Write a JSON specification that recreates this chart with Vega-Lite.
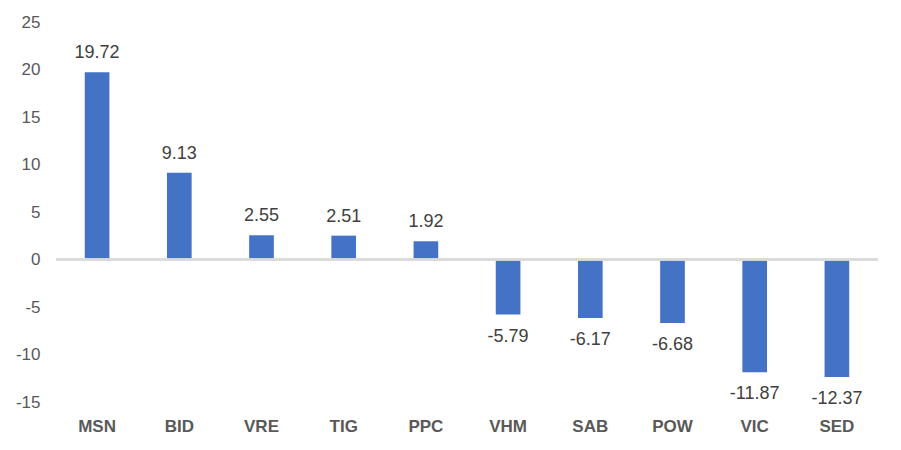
{
  "$schema": "https://vega.github.io/schema/vega-lite/v6.json",
  "width": 822,
  "height": 380,
  "autosize": {"type": "none"},
  "padding": {"left": 56, "top": 22, "right": 23, "bottom": 48},
  "background": "white",
  "config": {"view": {"stroke": null}, "font": "Liberation Sans"},
  "data": {"values": [
    {"ticker": "MSN", "value": 19.72},
    {"ticker": "BID", "value": 9.13},
    {"ticker": "VRE", "value": 2.55},
    {"ticker": "TIG", "value": 2.51},
    {"ticker": "PPC", "value": 1.92},
    {"ticker": "VHM", "value": -5.79},
    {"ticker": "SAB", "value": -6.17},
    {"ticker": "POW", "value": -6.68},
    {"ticker": "VIC", "value": -11.87},
    {"ticker": "SED", "value": -12.37}
  ]},
  "encoding": {
    "x": {"field": "ticker", "type": "nominal", "sort": null,
      "scale": {"paddingInner": 0.7, "paddingOuter": 0.35},
      "axis": {"title": null, "orient": "bottom", "domain": false, "ticks": false, "labelAngle": 0,
        "labelFont": "Liberation Sans", "labelFontSize": 17, "labelFontWeight": "bold", "labelColor": "#595959", "labelPadding": 16}},
    "y": {"field": "value", "type": "quantitative",
      "scale": {"domain": [-15, 25], "nice": false, "zero": false},
      "axis": {"title": null, "values": [-15, -10, -5, 0, 5, 10, 15, 20, 25], "grid": false, "domain": false, "ticks": false,
        "labelExpr": "replace(datum.label, '−', '-')",
        "labelFont": "Liberation Sans", "labelFontSize": 17, "labelColor": "#595959", "labelPadding": 16}}
  },
  "layer": [
    {"mark": {"type": "bar", "color": "#4472C4"}},
    {"mark": {"type": "rule", "color": "#D9D9D9", "strokeWidth": 1.5}, "encoding": {"y": {"datum": 0}, "x": null}},
    {"transform": [{"filter": "datum.value >= 0"}],
      "mark": {"type": "text", "baseline": "middle", "dy": -19, "fontSize": 18, "color": "#404040", "font": "Liberation Sans",
        "text": {"expr": "replace(format(datum.value, '.2f'), '−', '-')"}}},
    {"transform": [{"filter": "datum.value < 0"}],
      "mark": {"type": "text", "baseline": "middle", "dy": 22, "fontSize": 18, "color": "#404040", "font": "Liberation Sans",
        "text": {"expr": "replace(format(datum.value, '.2f'), '−', '-')"}}}
  ]
}
